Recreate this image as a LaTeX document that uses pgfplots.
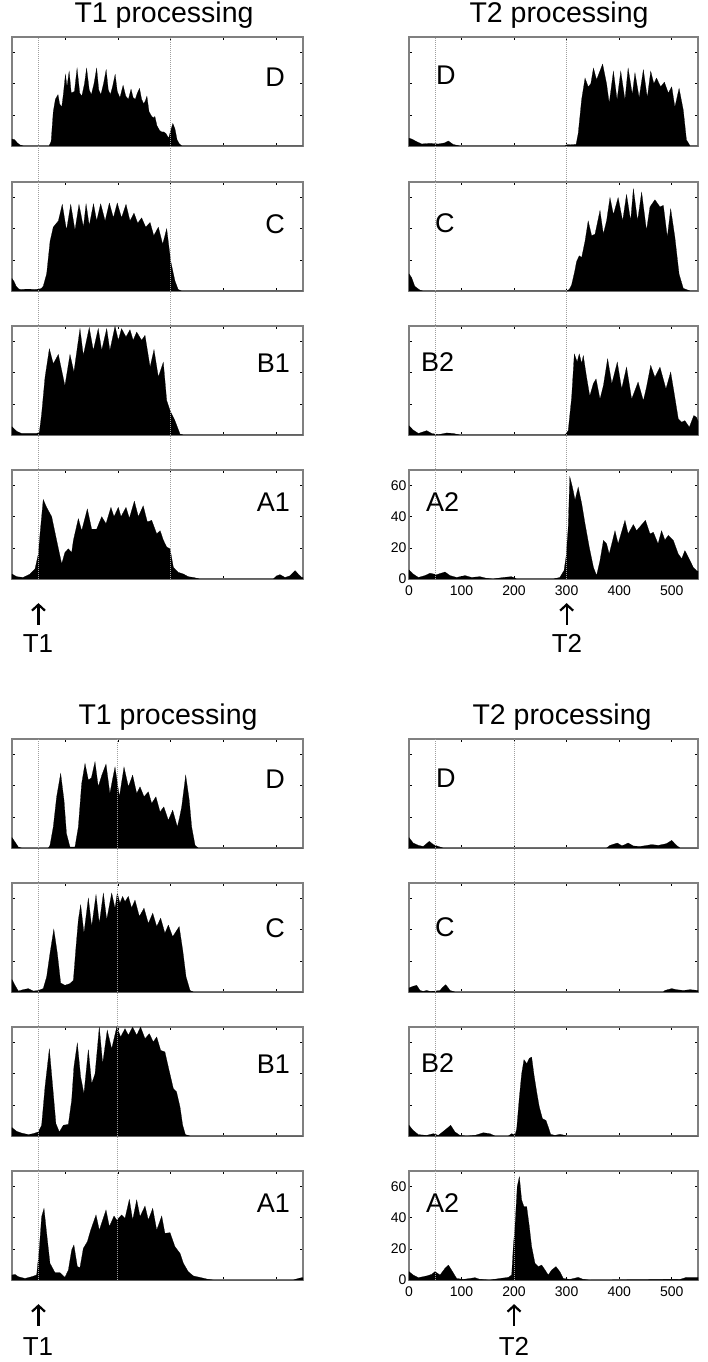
\documentclass[border=0pt]{standalone}
\usepackage{pgfplots}
\pgfplotsset{compat=1.18}
\usepackage{fontspec}
\setmainfont{Liberation Sans}
\usetikzlibrary{arrows.meta}

\pgfplotsset{
  panel/.style={
    scale only axis, width=291pt, height=109pt, anchor=north west,
    xmin=0, xmax=550, ymin=0, ymax=70,
    xtick={0,100,...,500}, ytick={0,20,40,60},
    xticklabels={}, yticklabels={},
    tick align=inside, major tick length=2.8pt,
    axis line style={line width=0.8pt},
    every outer y axis line/.append style={black!50, line width=1.1pt},
    every tick/.append style={line width=0.6pt, black},
    clip=false,
    tick label style={font=\fontsize{14}{16}\selectfont},
    xticklabel style={yshift=-3pt},
    yticklabel style={xshift=1pt},
    /pgf/number format/assume math mode=true,
  },
  panelR/.style={panel, width=289pt},
}
\tikzset{
  histfill/.style={fill=black, draw=black, line width=0.2pt},
  vline/.style={black!38, line width=0.8pt, dash pattern=on 1pt off 1pt},
  uparr/.style={-{Straight Barb[length=6pt,width=13pt,line width=2.2pt]}, line width=2.2pt},
  lab/.style={inner sep=0pt, font=\fontsize{27}{30}\selectfont},
  ttl/.style={inner sep=0pt, anchor=base, font=\fontsize{28.5}{32}\selectfont},
  tlab/.style={inner sep=0pt, anchor=base, font=\fontsize{26}{30}\selectfont},
}

\begin{document}
\begin{tikzpicture}[x=1pt,y=1pt]
\useasboundingbox (0,0) rectangle (707,-1362);

%================ TOP SECTION, LEFT (T1) =================
\begin{axis}[panel, at={(12pt,-37pt)}]
\addplot[histfill] coordinates {(0,4.5)(5,4)(10,2)(16,0.5)(22,0)(70,0)(74,3)(78,22)(82,30)(87,33)(90,27)(94,25)(97,33)(101,46)(104,38)(108,48)(112,34)(118,35)(123,50)(128,34)(132,32)(137,40)(141,50)(146,36)(150,33)(155,40)(160,50)(164,36)(168,33)(173,40)(178,49)(182,36)(186,33)(190,38)(195,46)(199,35)(204,31)(207,35)(210,39)(215,32)(220,30)(225,36.5)(229,31)(233,30)(237,34)(241,37)(245,30)(249,27)(252,29)(255,32)(259,22)(264,19)(268,18)(270,19)(274,13)(279,10)(283,9)(287,9)(291,8)(296,5)(300,10)(304,14.5)(308,11)(312,4)(316,1.5)(321,0)(550,0)} \closedcycle;
\end{axis}
\begin{axis}[panel, at={(12pt,-182pt)}]
\addplot[histfill] coordinates {(0,8)(4,6)(8,3)(12,1.5)(15,1)(30,1.2)(45,1)(55,1.5)(59,3)(65.5,11)(72,32)(78,41)(87.6,45)(95,55.6)(103,39)(111,55.6)(119,39)(126.6,55.6)(135,41)(140,56)(146,42)(154,56)(160,45)(167.6,56)(176,45)(184,56.5)(191.6,47)(199,56.5)(207,47)(215.5,55.6)(223,45)(230.6,50)(237.6,43.5)(245,47)(252.7,41)(261,44)(268,35.5)(276.6,41)(284.8,30)(292.4,40)(300,19)(308,6.5)(314,1)(320.7,0)(550,0)} \closedcycle;
\end{axis}
\begin{axis}[panel, at={(12pt,-326pt)}]
\addplot[histfill] coordinates {(0,5.3)(8.8,2.4)(18,1)(46.6,1)(51.7,1.7)(56,13.5)(62.4,37)(70.6,55.4)(78,45.7)(87.6,51.7)(100,31.6)(109.6,51.7)(117,40.4)(128.5,68.3)(134.8,51.1)(146,68.9)(153.7,54.3)(163,68.3)(169.5,54.3)(179,68.3)(185,54.3)(194.7,69.8)(201,60.8)(207,68.3)(215.5,62.9)(223,67.6)(229,60.8)(235.7,66.1)(245,60.8)(251.4,64)(261,43.6)(268.4,54.8)(276.6,37.2)(286,46.8)(292.4,22.1)(298.7,15.7)(308,9.2)(317.6,0.6)(324,0)(550,0)} \closedcycle;
\end{axis}
\begin{axis}[panel, at={(12pt,-470pt)}]
\addplot[histfill] coordinates {(0,3.2)(8.8,1.5)(21,1)(34,3.2)(43.5,6.5)(49.8,16)(53,29)(59,51)(65.5,46)(75,40)(84.4,24.8)(93.9,9.7)(100,17)(106.5,19.4)(112.8,17)(116,24.8)(125.4,38.8)(131.7,31)(142.4,45)(150.6,32)(160,32)(169.5,40)(177.7,35.5)(187,46)(192.8,40)(201,46)(206,40)(215.5,46)(221.8,39)(231.3,50)(238.8,40)(248,47)(255.8,36.6)(264,37.7)(273.5,29)(280,31)(286,25)(292.4,20.5)(298.7,19.4)(305,7.5)(314,4.3)(324,3.2)(333,1.5)(342.8,1)(355,0)(494,0)(500,2)(506.6,2.8)(516,1)(525,2)(535,5.4)(541,3.2)(547.6,1)(550,1)} \closedcycle;
\draw[vline] (axis cs:50,0) -- (axis cs:50,347.4);
\draw[vline] (axis cs:300,0) -- (axis cs:300,347.4);
\draw[uparr] (axis cs:50,-29.5) -- (axis cs:50,-15.5);
\end{axis}

%================ TOP SECTION, RIGHT (T2) =================
\begin{axis}[panelR, at={(409pt,-37pt)}]
\addplot[histfill] coordinates {(0,5)(5,4.5)(14.6,2.8)(24,1.3)(40,1.7)(56,1.3)(68,2)(75,3.2)(84,1)(97,0)(297,0)(300,0.8)(318,1)(322,8)(328.6,30)(335,43.6)(341,38)(346,40)(351,50)(357,42.5)(362,47)(368.5,52.6)(376,40)(381,27.5)(389,48)(396,29.6)(403,48)(411,29.6)(417,50)(425,33)(430,47)(438,31)(446,49)(453.5,31)(460,48)(466,40)(471,43.6)(479,38)(486,41)(493.5,34)(500,38)(506,25)(514,37)(522,23)(528,4)(535,0)(550,0)} \closedcycle;
\end{axis}
\begin{axis}[panelR, at={(409pt,-182pt)}]
\addplot[histfill] coordinates {(0,11)(5,8.6)(11,3)(21,0.5)(27,0)(300,0)(305,1)(309.5,4)(315,12)(319,19)(324,22.6)(328.6,21.5)(335,32)(341,45)(347.6,35.5)(354,36.5)(363.5,51.7)(369.8,36.6)(376,45)(382.5,60)(389,49)(398,60)(406.6,45)(414,62)(421.8,45)(427,65.7)(435,45)(442.7,63.5)(452,38.8)(458.6,54)(468,58.6)(477.6,54)(484,55)(491.6,34.5)(498,52.8)(506,34.5)(514,10.8)(522,1.7)(535,0)(550,0)} \closedcycle;
\end{axis}
\begin{axis}[panelR, at={(409pt,-326pt)}]
\addplot[histfill] coordinates {(0,6)(8,3.2)(17.8,1)(33.6,2.8)(43,1)(56,0.2)(71.7,1.3)(84,1)(97,0)(297,0)(303,2.8)(309.5,24)(314.6,52)(320,47)(324,52)(328.6,46)(331.7,51)(338,37)(344,25)(350.8,33)(356,36)(363.5,23)(370,31.8)(378,49)(386,32.9)(396.4,46.8)(404.7,29.6)(414,43.6)(423.7,23)(436,34)(446,22)(452,30.7)(460,44.7)(468,37)(477.6,43.6)(489,29.6)(498,40.4)(506,24)(512.5,10.3)(519,8.2)(525,9.2)(533.5,5)(542,12.5)(547,11.4)(550,9)} \closedcycle;
\end{axis}
\begin{axis}[panelR, at={(409pt,-470pt)},
  xticklabels={0,100,200,300,400,500}, yticklabels={0,20,40,60}]
\addplot[histfill] coordinates {(0,5.8)(8,3.2)(17.8,1)(30.4,2.2)(40,3.7)(52.6,2.8)(68.5,4.5)(78,2.2)(90.7,1)(106.6,2.2)(119,1)(135,1.5)(148,0.4)(160,0)(179.5,1)(195,1.5)(205,0)(274.6,0)(287,1)(295,5.4)(298.8,14)(303,33)(306,65.7)(311,59)(316,50.6)(322,59)(328.6,48.5)(335,35.5)(343,20.5)(351,7.5)(357,2.2)(363.5,11.8)(370,24.8)(376,22.6)(381,16)(392,31)(398,22.6)(411,37.7)(417,29)(427,35)(433,31)(450,37.7)(458.6,29)(465,30)(474,22.6)(480.6,31)(487,25)(493.5,28)(503,24.8)(512.5,16)(519,13)(525,18.3)(531.5,14)(541,7.5)(547,5.4)(550,5)} \closedcycle;
\draw[vline] (axis cs:50,0) -- (axis cs:50,347.4);
\draw[vline] (axis cs:300,0) -- (axis cs:300,347.4);
\draw[uparr] (axis cs:300,-29.5) -- (axis cs:300,-15.5);
\end{axis}

%================ BOTTOM SECTION, LEFT (T1) =================
\begin{axis}[panel, at={(12pt,-739pt)}]
\addplot[histfill] coordinates {(0,6.7)(5.7,3.9)(12,0.6)(18,0)(68.7,0)(71.8,1.7)(78,13.5)(84.4,32.9)(92,47.9)(98.3,30.7)(103,9.2)(109.6,0.6)(119,0.6)(125.4,13.5)(131.7,41.4)(138,54.3)(144.3,43.6)(150,45)(156.9,55.4)(163,39.3)(170,47)(177.7,53.9)(185,35)(190,44)(194.7,52)(203,32.9)(211.7,52)(220,39.3)(228,46.8)(235.7,35)(242,39.3)(249.5,32.9)(257.7,36.1)(264,28.6)(272,32.9)(279.8,23.2)(287,26.4)(295.5,17.8)(303.7,24.3)(312.5,13.5)(317,20)(320.7,26.4)(328.3,46.8)(335,30.7)(339.6,13.5)(346,1.7)(352,0)(550,0)} \closedcycle;
\end{axis}
\begin{axis}[panel, at={(12pt,-883pt)}]
\addplot[histfill] coordinates {(0,8)(5.7,4.3)(12,0.6)(21,1.5)(31,2.2)(40,0.6)(49.8,1)(59,2.2)(65.5,9.7)(71.8,24.8)(79,40.3)(85.7,24.8)(92,5.8)(100,4.3)(109.6,5.4)(116,7.5)(121,29)(125.4,46.3)(129.8,56)(136,37.7)(144.3,60.3)(150.6,42)(158.8,62.5)(165,44)(172.7,63.5)(179,46.3)(188.4,63.5)(194.7,53.8)(199,63.5)(204,57)(209,61.4)(213.6,58)(219.9,61.4)(226,54)(232.5,59)(240.7,48.5)(249.5,53.8)(257.7,44)(266,50.6)(273.5,42)(281,47.4)(289,37.7)(295.5,43)(303.7,35.5)(316,42)(322.6,27)(329,9.7)(336.5,1)(342.8,0)(550,0)} \closedcycle;
\end{axis}
\begin{axis}[panel, at={(12pt,-1027pt)}]
\addplot[histfill] coordinates {(0,5.4)(8.8,3)(18,1.9)(31,0.9)(40,1.5)(49.8,2.6)(56,6.9)(62.4,31.5)(70.6,56)(77,31.5)(83,7.9)(89.5,2.6)(97,6.9)(106.5,7.5)(112.8,23)(117,44.3)(123.5,59.7)(129.8,37.9)(136,27.2)(144.3,55.5)(150.6,33.6)(157,40)(165,70)(171.4,46.5)(180,67.9)(188.4,56)(198,70)(205.4,63.6)(213.6,69)(220,64.7)(228,70)(235.7,64.7)(243,70)(251.4,62.5)(259.6,65.7)(267,60.4)(273.5,63.6)(281,55)(289,54)(297,42)(305,30.4)(311,28.3)(317.6,18.6)(322.6,6.9)(327.7,0.9)(336.5,0)(550,0)} \closedcycle;
\end{axis}
\begin{axis}[panel, at={(12pt,-1171pt)}]
\addplot[histfill] coordinates {(0,3.2)(5.7,3.6)(12,2.1)(24.6,1)(37,2.1)(46.6,3.2)(51.7,20.3)(56,40.7)(60.5,46)(65.5,30)(71.8,10.7)(81.3,4.7)(90.7,4.7)(100,1.7)(106.5,6.4)(112.8,19.3)(117,22.5)(123.5,8.6)(128.5,8)(134.8,20.3)(142.4,24.6)(148.7,32)(158.8,41.8)(165,32)(177.7,45)(184,34.3)(192.8,41.1)(198,38.5)(207.3,41.8)(213.6,39.6)(221.8,51.8)(228,38.5)(235.7,51.4)(242,40.7)(251.4,47.5)(257.7,38.5)(266,46)(273.5,32)(283,41.1)(289,30)(298.7,30.4)(308,21.4)(317.6,17.1)(324,10.7)(333,5.4)(342.8,2.6)(355,1.7)(371,0.4)(380.6,0)(532,0)(541,1)(547.6,1.5)(550,1.5)} \closedcycle;
\draw[vline] (axis cs:50,0) -- (axis cs:50,347.4);
\draw[vline] (axis cs:200,0) -- (axis cs:200,347.4);
\draw[uparr] (axis cs:50,-29.5) -- (axis cs:50,-15.5);
\end{axis}

%================ BOTTOM SECTION, RIGHT (T2) =================
\begin{axis}[panelR, at={(409pt,-739pt)}]
\addplot[histfill] coordinates {(0,6.7)(8,3.2)(17.8,1.7)(27,1)(38.7,4.3)(46.3,2.2)(55.8,1)(65,0)(376,0)(382.5,1.7)(390,2.5)(396.4,3.2)(404.7,1.5)(410,2)(417,3.2)(427,1.3)(439.6,1)(450,1.5)(461.8,2.2)(474.5,1.7)(490,2.8)(500,4.9)(509,1.7)(515.7,0)(550,0)} \closedcycle;
\end{axis}
\begin{axis}[panelR, at={(409pt,-883pt)}]
\addplot[histfill] coordinates {(0,2.6)(8,3.7)(14.6,4.3)(21,1)(27,0.4)(33.6,1)(40,0.4)(49.5,0.6)(59,1)(64,3)(69.8,4.7)(75,2.5)(78,1)(87.5,0)(484,0)(487,1)(500,2.2)(509,1.5)(522,1)(535,1.5)(544,1.2)(550,1)} \closedcycle;
\end{axis}
\begin{axis}[panelR, at={(409pt,-1027pt)}]
\addplot[histfill] coordinates {(0,6.9)(8,3.6)(17.8,0.9)(33.6,0.4)(46.3,1.5)(55.8,0.4)(71.7,4.7)(79.3,6.9)(87.5,2.6)(97,0.4)(109.7,0)(125.6,0.4)(141.5,2.1)(154,1.5)(163.6,0)(189,0)(195.4,1.5)(201.7,0.4)(205,4.7)(210,25)(214.4,40)(218.8,49)(224,46.5)(229,49.9)(233.4,50.7)(238,39)(243,28.3)(248,18.6)(254,11.1)(260.7,10)(265,5.8)(269.6,1.1)(277.8,0.4)(287,1.1)(297,0.4)(300,0)(550,0)} \closedcycle;
\end{axis}
\begin{axis}[panelR, at={(409pt,-1171pt)},
  xticklabels={0,100,200,300,400,500}, yticklabels={0,20,40,60}]
\addplot[histfill] coordinates {(0,5.4)(8,3.2)(17.8,1.5)(33.6,2.6)(43,3.6)(49.5,5.4)(59,3.2)(68.5,7.5)(75,9.6)(81,6.4)(90.7,1)(103.4,0.4)(116,1)(125.6,1.5)(135,0.4)(154,0)(173,1)(189,1.7)(195.4,3.2)(198.5,21.4)(201.7,34.3)(206,60)(210,66.4)(214.4,51.4)(218.8,47.1)(224,47.1)(229,34.3)(233.4,21.4)(239.8,10.7)(246,8.6)(252.5,9.6)(259,6.4)(265,3.2)(271.5,6.4)(279.7,8.6)(287,5.4)(293.7,1)(306,0.4)(322,1.7)(331.7,0.4)(344,0)(515.7,0.4)(528,1.7)(550,1.7)} \closedcycle;
\draw[vline] (axis cs:50,0) -- (axis cs:50,347.4);
\draw[vline] (axis cs:200,0) -- (axis cs:200,347.4);
\draw[uparr] (axis cs:200,-29.5) -- (axis cs:200,-15.5);
\end{axis}

%================ TEXT =================
\node[ttl] at (164,-23) {T1 processing};
\node[ttl] at (559,-23) {T2 processing};
\node[ttl] at (168,-724) {T1 processing};
\node[ttl] at (562,-724) {T2 processing};

\node[lab, anchor=base east] at (285,-87) {D};
\node[lab, anchor=base east] at (285,-233) {C};
\node[lab, anchor=base east] at (290,-372) {B1};
\node[lab, anchor=base east] at (290,-511) {A1};
\node[lab, anchor=base west] at (436,-85) {D};
\node[lab, anchor=base west] at (435,-232) {C};
\node[lab, anchor=base west] at (421,-371) {B2};
\node[lab, anchor=base west] at (426,-511) {A2};

\node[lab, anchor=base east] at (285,-788) {D};
\node[lab, anchor=base east] at (285,-937) {C};
\node[lab, anchor=base east] at (290,-1073) {B1};
\node[lab, anchor=base east] at (290,-1212) {A1};
\node[lab, anchor=base west] at (436,-787) {D};
\node[lab, anchor=base west] at (435,-936) {C};
\node[lab, anchor=base west] at (421,-1072) {B2};
\node[lab, anchor=base west] at (426,-1212) {A2};

\node[tlab] at (38,-652) {T1};
\node[tlab] at (567,-652) {T2};
\node[tlab] at (38,-1355) {T1};
\node[tlab] at (514,-1355) {T2};
\end{tikzpicture}
\end{document}
